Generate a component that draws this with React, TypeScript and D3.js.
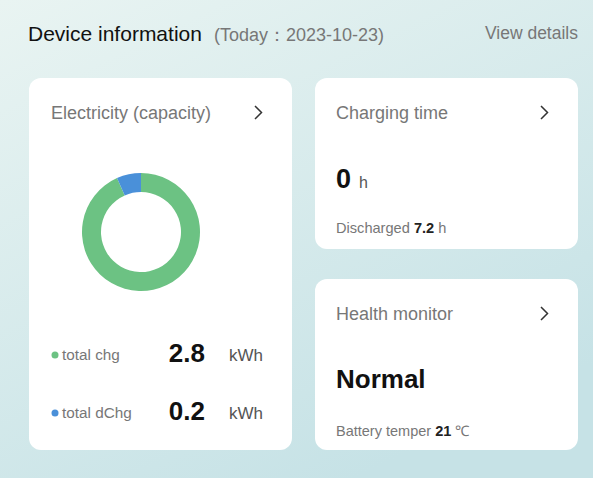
import React, { useRef, useEffect } from 'react'
import * as d3 from 'd3'

const W = 593
const H = 478

const energyLabels = ['total chg', 'total dChg']
const energyValues = [2.8, 0.2]
const energyColors = ['#6cc283', '#4a90d9']
const energyUnit = 'kWh'

const reportDate = '2023-10-23'
const chargingHours = 0
const dischargedHours = 7.2
const healthStatus = 'Normal'
const batteryTemp = 21

const FONT = '"Liberation Sans", Arial, sans-serif'

const App: React.FC = () => {
  const node = useRef<SVGSVGElement | null>(null)

  useEffect(() => {
    const svg = d3.select(node.current)
    svg.selectAll('*').remove()
    svg.attr('width', W).attr('height', H).style('font-family', FONT)

    const defs = svg.append('defs')
    const grad = defs
      .append('linearGradient')
      .attr('id', 'bg')
      .attr('x1', '0%')
      .attr('y1', '0%')
      .attr('x2', '60%')
      .attr('y2', '100%')
    grad.append('stop').attr('offset', '0%').attr('stop-color', '#e9f4f2')
    grad.append('stop').attr('offset', '100%').attr('stop-color', '#c6e2e6')

    svg.append('rect').attr('width', W).attr('height', H).attr('fill', 'url(#bg)')

    // header
    const head = svg.append('text').attr('x', 28).attr('y', 41)
    head.append('tspan').attr('font-size', 21).attr('fill', '#111').text('Device information')
    head
      .append('tspan')
      .attr('dx', 12)
      .attr('font-size', 18)
      .attr('fill', '#777')
      .text(`(Today：${reportDate})`)
    svg
      .append('text')
      .attr('x', 578)
      .attr('y', 39)
      .attr('text-anchor', 'end')
      .attr('font-size', 17.5)
      .attr('fill', '#777')
      .text('View details')

    const card = (x, y, w, h) =>
      svg.append('rect').attr('x', x).attr('y', y).attr('width', w).attr('height', h).attr('rx', 12).attr('fill', '#fff')

    const cardTitle = (x, y, t, chevX) => {
      svg.append('text').attr('x', x).attr('y', y).attr('font-size', 18).attr('fill', '#777').text(t)
      svg
        .append('path')
        .attr('d', `M${chevX},${y - 13} L${chevX + 6.5},${y - 6.5} L${chevX},${y}`)
        .attr('fill', 'none')
        .attr('stroke', '#333')
        .attr('stroke-width', 1.5)
    }

    // left card: donut
    card(29, 78, 263, 372)
    cardTitle(51, 119, 'Electricity (capacity)', 255)

    const pie = d3.pie<number>().sort(null).value((d) => d)
    const arc = d3.arc().innerRadius(40).outerRadius(59)
    const g = svg.append('g').attr('transform', 'translate(141,232)')
    g.selectAll('path')
      .data(pie(energyValues))
      .join('path')
      .attr('d', arc as any)
      .attr('fill', (d, i) => energyColors[i])

    const rowY = d3.scalePoint().domain(energyLabels).range([360, 418])
    energyLabels.forEach((lab, i) => {
      const y = rowY(lab)
      svg.append('circle').attr('cx', 55).attr('cy', y - 5).attr('r', 3.5).attr('fill', energyColors[i])
      svg.append('text').attr('x', 62).attr('y', y).attr('font-size', 15.3).attr('fill', '#777').text(lab)
      svg
        .append('text')
        .attr('x', 205)
        .attr('y', y + 2)
        .attr('text-anchor', 'end')
        .attr('font-size', 26)
        .attr('font-weight', 'bold')
        .attr('fill', '#111')
        .text(energyValues[i].toFixed(1))
      svg.append('text').attr('x', 229).attr('y', y + 1).attr('font-size', 17).attr('fill', '#555').text(energyUnit)
    })

    // charging time card
    card(315, 78, 263, 171)
    cardTitle(336, 119, 'Charging time', 541)
    const ct = svg.append('text').attr('x', 336).attr('y', 188)
    ct.append('tspan').attr('font-size', 27).attr('font-weight', 'bold').attr('fill', '#111').text(chargingHours)
    ct.append('tspan').attr('dx', 8).attr('font-size', 16).attr('fill', '#555').text('h')
    const dc = svg.append('text').attr('x', 336).attr('y', 233).attr('font-size', 14.6).attr('fill', '#777')
    dc.append('tspan').text('Discharged ')
    dc.append('tspan').attr('font-weight', 'bold').attr('fill', '#222').text(dischargedHours.toFixed(1))
    dc.append('tspan').text(' h')

    // health card
    card(315, 279, 263, 171)
    cardTitle(336, 320, 'Health monitor', 541)
    svg
      .append('text')
      .attr('x', 336)
      .attr('y', 388)
      .attr('font-size', 26)
      .attr('font-weight', 'bold')
      .attr('fill', '#111')
      .text(healthStatus)
    const bt = svg.append('text').attr('x', 336).attr('y', 436).attr('font-size', 14.5).attr('fill', '#777')
    bt.append('tspan').text('Battery temper ')
    bt.append('tspan').attr('font-weight', 'bold').attr('fill', '#222').text(batteryTemp)
    bt.append('tspan').text(' ℃')
  }, [])

  return <svg ref={node} style={{ display: 'block', position: 'fixed', left: 0, top: 0 }}></svg>
}

export default App
